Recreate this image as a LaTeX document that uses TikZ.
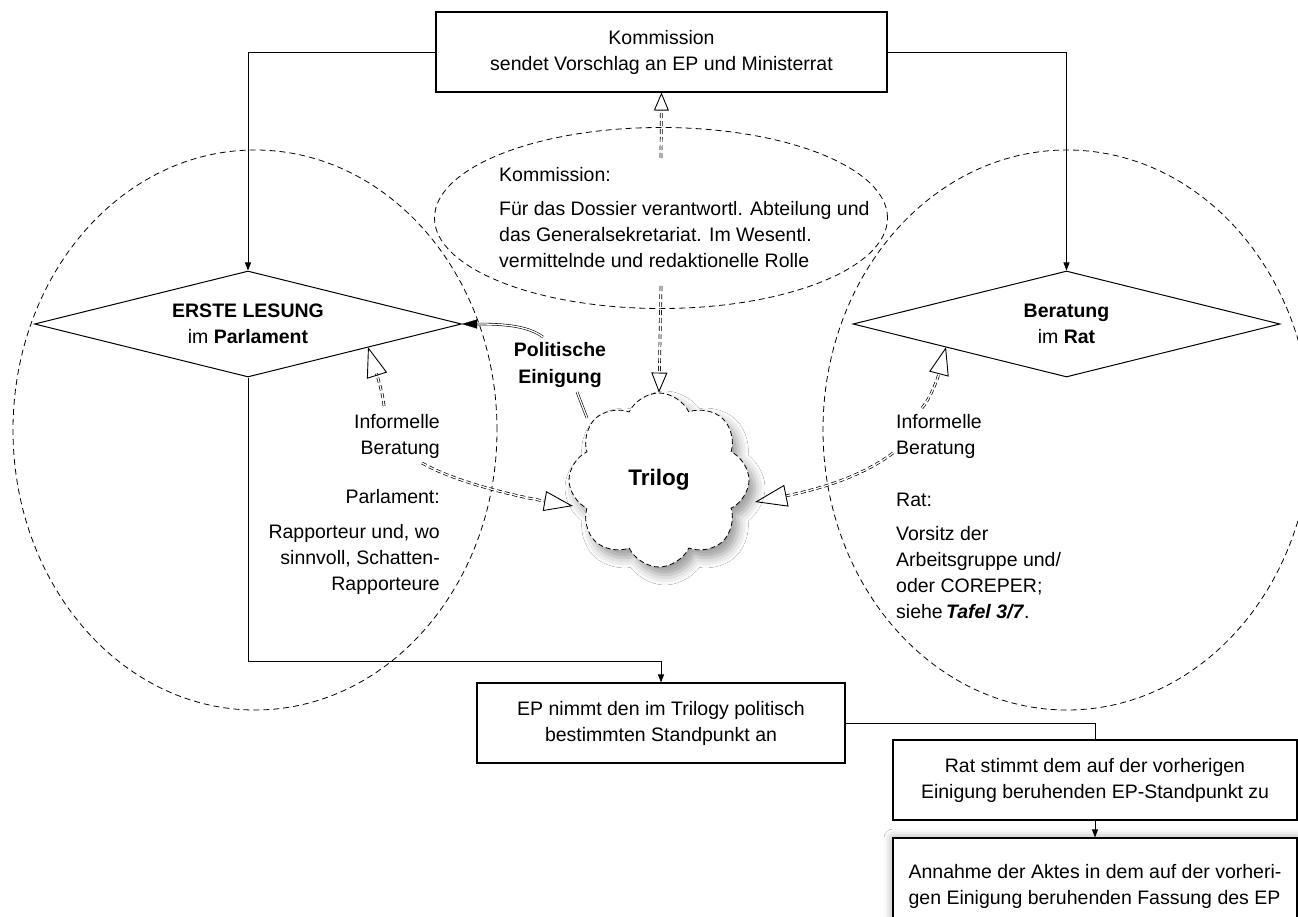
\documentclass[tikz,border=0pt]{standalone}
\usepackage{fontspec}
\setmainfont{Liberation Sans}
\usetikzlibrary{shapes.geometric,shapes.symbols,arrows.meta,shadows.blur,calc}
\begin{document}
\begin{tikzpicture}[x=1pt,y=-1pt,
  every node/.style={font=\fontsize{19.5}{26}\selectfont},
  ell/.style={ellipse, draw, dash pattern=on 6pt off 4pt, line width=0.8pt, inner sep=0pt},
  box/.style={draw, line width=1.1pt, fill=white, minimum height=80pt, align=center, inner sep=0pt},
  dia/.style={diamond, draw, line width=1pt, fill=white, aspect=4, inner sep=0pt, minimum width=427pt, minimum height=106pt, align=center},
  txt/.style={inner sep=0pt},
  conn/.style={line width=0.9pt, -{Triangle[length=8pt,width=6pt]}},
  dbl/.style={draw=black, double=white, double distance=1.3pt, line width=0.6pt},
  inf/.style 2 args={draw=white, line width=0.2pt,
     -{Triangle[open, length=#1, width=#2, color=black, line width=0.9pt]},
     preaction={draw=black, -, double=white, double distance=1.3pt, line width=0.7pt, dash pattern=on 5pt off 3pt, shorten >=#1}},
  pol/.style={draw=white, line width=0.2pt,
     -{Triangle[length=15pt, width=9pt, color=black]},
     preaction={draw=black, -, double=white, double distance=1.3pt, line width=0.6pt, shorten >=15pt}}
]
\useasboundingbox (0,0) rectangle (1298,917);
\fill[white] (0,0) rectangle (1298,917);
\clip (0,0) rectangle (1298,917);

% dashed areas
\node[ell, minimum width=484pt, minimum height=560pt] (cl) at (255,430) {};
\node[ell, minimum width=488pt, minimum height=560pt] (cr) at (1067,430) {};
\node[ell, minimum width=453pt, minimum height=181pt] (ke) at (661,218) {};

% main nodes
\node[box, minimum width=451pt] (kom) at (661.5,52) {Kommission\\sendet Vorschlag an EP und Ministerrat};
\node[dia] (dl) at (248,324) {\textbf{ERSTE LESUNG}\\im \textbf{Parlament}};
\node[dia] (dr) at (1066.5,324) {\textbf{Beratung}\\im \textbf{Rat}};
\node[cloud, cloud puffs=8, cloud puff arc=130, aspect=1, draw, dash pattern=on 5pt off 3pt,
      line width=0.8pt, fill=white, minimum width=180pt, minimum height=174pt, inner sep=0pt,
      blur shadow={shadow xshift=6pt, shadow yshift=-8pt, shadow blur radius=10pt, shadow opacity=40},
      font=\fontsize{22.5}{26}\selectfont\bfseries] (tri) at (659,480) {Trilog};
\node[box, minimum width=368pt] (ep) at (661,723) {EP nimmt den im Trilogy politisch\\bestimmten Standpunkt an};
\node[box, minimum width=404pt] (rb) at (1095,780) {Rat stimmt dem auf der vorherigen\\Einigung beruhenden EP-Standpunkt zu};
\node[box, minimum width=404pt, minimum height=97pt, align=left,
      blur shadow={shadow xshift=0pt, shadow yshift=0pt, shadow blur radius=9pt, shadow opacity=40}]
      (ab) at (1095,886.5) {Annahme der Aktes in dem auf der vorheri-\\gen Einigung beruhenden Fassung des EP};

% texts
\node[txt, anchor=west, align=left] (kt) at (499,218) {Kommission:\\[8pt]Für das Dossier verantwortl. Abteilung und\\das Generalsekretariat. Im Wesentl.\\vermittelnde und redaktionelle Rolle};
\node[txt, anchor=east, align=right] (il) at (440,436.5) {Informelle\\Beratung};
\node[txt, anchor=east, align=right] (pt) at (440,541.5) {Parlament:\\[9pt]Rapporteur und, wo\\sinnvoll, Schatten-\\Rapporteure};
\node[txt, anchor=west, align=left] (ir) at (896,436.5) {Informelle\\Beratung};
\node[txt, anchor=west, align=left] (rt) at (896,556) {Rat:\\[8pt]Vorsitz der\\Arbeitsgruppe und/\\oder COREPER;\\siehe\,\textbf{\textit{Tafel 3/7}}.};
\node[txt, align=center, font=\fontsize{19.5}{26}\selectfont\bfseries] (pe) at (560,365) {Politische\\Einigung};

% connectors
\draw[conn] (kom.west) -| (dl.north);
\draw[conn] (kom.east) -| (dr.north);
\draw[conn] (dl.south) -- ++(0,284) -| (ep.north);
\draw[line width=0.9pt] (ep.east) -| (rb.north);
\draw[conn] (rb.south) -- (ab.north);

% informal (double dashed) arrows
\coordinate (k1) at (661,158);
\coordinate (k2) at (661,286);
\draw[inf={18pt}{15pt}] (k1) -- (kom.south);
\draw[inf={20pt}{16pt}] (k2) -- (tri.north);

\coordinate (a1) at (384,406); \coordinate (a1t) at (368,347);
\draw[inf={30pt}{21pt}] (a1) .. controls (383,392) and (374,366) .. (a1t);
\coordinate (a2) at (422,463); \coordinate (a2t) at (573,506);
\draw[inf={29pt}{20pt}] (a2) .. controls (455,482) and (515,496) .. (a2t);
\coordinate (a3) at (893,453); \coordinate (a3t) at (755,502);
\draw[inf={32pt}{22pt}] (a3) .. controls (860,478) and (815,490) .. (a3t);
\coordinate (a4) at (922,408); \coordinate (a4t) at (946,347);
\draw[inf={28pt}{20pt}] (a4) .. controls (933,395) and (940,370) .. (a4t);

% political agreement
\coordinate (p1) at (587,418); \coordinate (p2) at (577,392); \coordinate (p3) at (543,337);
\draw[dbl] (p1) -- (p2);
\draw[pol] (p3) .. controls (528,326) and (505,324) .. (dl.east);
\end{tikzpicture}
\end{document}
